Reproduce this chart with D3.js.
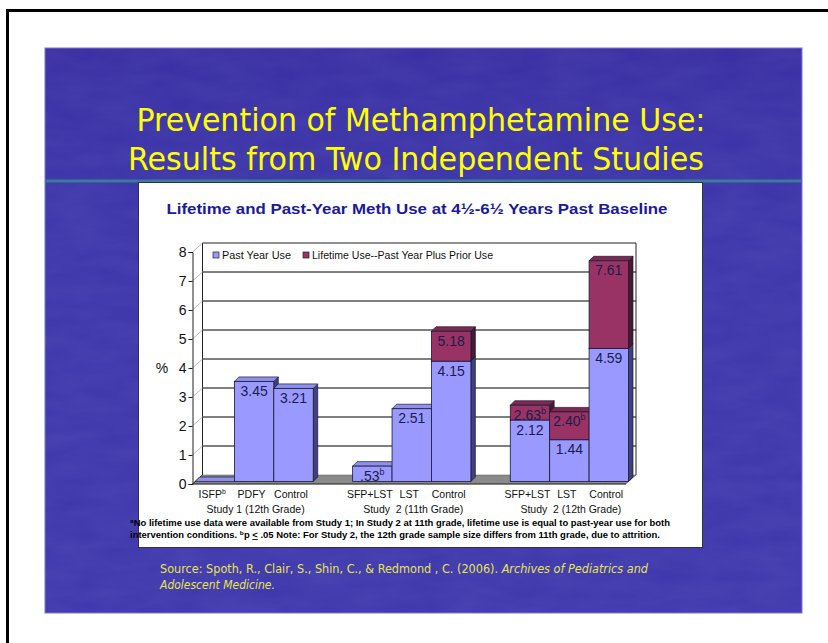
<!DOCTYPE html>
<html>
<head>
<meta charset="utf-8">
<script src="https://cdn.jsdelivr.net/npm/d3@7"></script>
<style>
  body { margin: 0; background: #fff; }
  svg { display: block; }
</style>
</head>
<body>
<div id="pane"></div>
<script>
// chart data
const groups = ["Study 1 (12th Grade)", "Study  2 (11th Grade)", "Study  2 (12th Grade)"];
const barNames = ["ISFP", "PDFY", "Control", "SFP+LST", "LST", "Control", "SFP+LST", "LST", "Control"];
const barNameSup = ["b", "", "", "", "", "", "", "", ""];
const barGroup = [0, 0, 0, 1, 1, 1, 2, 2, 2];
const pastYear = [0, 3.45, 3.21, 0.53, 2.51, 4.15, 2.12, 1.44, 4.59];
const lifetime = [null, null, null, null, null, 5.18, 2.63, 2.40, 7.61];
const pastSup = ["", "", "", "b", "", "", "", "", ""];
const lifeSup = ["", "", "", "", "", "", "b", "b", ""];
const yTicks = [0, 1, 2, 3, 4, 5, 6, 7, 8];
const seriesNames = ["Past Year Use", "Lifetime Use--Past Year Plus Prior Use"];

const W = 828, H = 643;
const svg = d3.select("#pane").append("svg")
  .attr("width", W).attr("height", H);

// page frame (cut off at right / bottom like the scan)
svg.append("rect")
  .attr("x", 7.5).attr("y", 10.5).attr("width", W + 20).attr("height", H + 20)
  .attr("fill", "none").attr("stroke", "#000").attr("stroke-width", 3);

// slide background
const defs = svg.append("defs");
const grad = defs.append("linearGradient").attr("id", "bg").attr("x1", 0).attr("y1", 0).attr("x2", 0).attr("y2", 1);
grad.append("stop").attr("offset", 0).attr("stop-color", "#3a30a4");
grad.append("stop").attr("offset", 0.3).attr("stop-color", "#3e37ab");
grad.append("stop").attr("offset", 1).attr("stop-color", "#4039ad");
const filt = defs.append("filter").attr("id", "tex").attr("x", 0).attr("y", 0).attr("width", 1).attr("height", 1);
filt.append("feTurbulence").attr("type", "fractalNoise").attr("baseFrequency", "0.02 0.06").attr("numOctaves", 3).attr("seed", 4);
filt.append("feColorMatrix").attr("type", "matrix")
  .attr("values", "0 0 0 0 0.75  0 0 0 0 0.75  0 0 0 0 1  0 0 0 0.35 -0.05");

svg.append("rect").attr("x", 45).attr("y", 48).attr("width", 757).attr("height", 565)
  .attr("fill", "url(#bg)").attr("stroke", "#7a74cc").attr("stroke-width", 1);
svg.append("rect").attr("x", 45).attr("y", 48).attr("width", 757).attr("height", 565)
  .attr("filter", "url(#tex)").attr("opacity", 0.22);

// slide title
const titleLines = ["Prevention of Methamphetamine Use:", "Results from Two Independent Studies"];
const titleX = [421, 416], titleY = [131, 170], titleLen = [569, 576];
svg.selectAll("text.title").data(titleLines).join("text")
  .attr("class", "title")
  .attr("x", (d, i) => titleX[i]).attr("y", (d, i) => titleY[i])
  .attr("text-anchor", "middle")
  .attr("textLength", (d, i) => titleLen[i]).attr("lengthAdjust", "spacingAndGlyphs")
  .style("font-family", "'DejaVu Sans Condensed', 'DejaVu Sans', sans-serif")
  .style("font-stretch", "condensed")
  .style("font-size", "31.5px")
  .attr("fill", "#ffff00")
  .text(d => d);

// teal rule
svg.append("rect").attr("x", 45).attr("y", 179.5).attr("width", 757).attr("height", 3).attr("fill", "#3a7c98");

// chart box
svg.append("rect").attr("x", 138.5).attr("y", 182.5).attr("width", 564).attr("height", 365)
  .attr("fill", "#fff").attr("stroke", "#333").attr("stroke-width", 1);

svg.append("text")
  .attr("x", 417).attr("y", 214).attr("text-anchor", "middle")
  .attr("textLength", 501).attr("lengthAdjust", "spacingAndGlyphs")
  .style("font-family", "'Liberation Sans', Arial, sans-serif")
  .style("font-weight", "bold").style("font-size", "15px")
  .attr("fill", "#1a1a9a")
  .text("Lifetime and Past-Year Meth Use at 4½-6½ Years Past Baseline");

// 3D plot geometry
const DX = 10, DY = -9;          // depth of walls
const OX = 2.5, OY = -2.5;       // bars set back from front plane
const BX = 4.5, BY = -4.5;       // depth of bars

const x = d3.scaleBand().domain(d3.range(groups.length)).range([192.5, 626]).paddingInner(0.25).paddingOuter(0);
const xi = d3.scaleBand().domain([0, 1, 2]).range([0, x.bandwidth()]);
const y = d3.scaleLinear().domain([0, 8]).range([484, 252]);

const plot = svg.append("g").style("font-family", "'Liberation Sans', Arial, sans-serif");
const x0 = x.range()[0], x1 = x.range()[1];

// floor
plot.append("polygon")
  .attr("points", [[x0, y(0)], [x1, y(0)], [x1 + DX, y(0) + DY], [x0 + DX, y(0) + DY]].join(" "))
  .attr("fill", "#8a8a8a").attr("stroke", "#555").attr("stroke-width", 0.5);

// back wall gridlines and frame
plot.selectAll("line.grid").data(yTicks.filter(t => t > 0 && t < 8)).join("line")
  .attr("class", "grid")
  .attr("x1", x0 + DX).attr("x2", x1 + DX)
  .attr("y1", d => y(d) + DY).attr("y2", d => y(d) + DY)
  .attr("stroke", "#000").attr("stroke-width", 1);
plot.append("polyline")
  .attr("points", [[x0 + DX, y(0) + DY], [x0 + DX, y(8) + DY], [x1 + DX, y(8) + DY], [x1 + DX, y(0) + DY]].join(" "))
  .attr("fill", "none").attr("stroke", "#222").attr("stroke-width", 1);

// left wall diagonals
plot.selectAll("line.diag").data(yTicks).join("line")
  .attr("class", "diag")
  .attr("x1", x0).attr("x2", x0 + DX)
  .attr("y1", d => y(d)).attr("y2", d => y(d) + DY)
  .attr("stroke", d => d === 0 ? "#333" : "#bbb").attr("stroke-width", 1);

// front y axis
const yAxis = d3.axisLeft(y).tickValues(yTicks).tickSize(4).tickPadding(2).tickFormat(d3.format("d"));
const ax = plot.append("g").attr("transform", `translate(${x0},0)`).call(yAxis);
ax.select(".domain").attr("stroke", "#222");
ax.selectAll(".tick line").attr("stroke", "#222");
ax.selectAll(".tick text").style("font-size", "14px").style("font-family", "'Liberation Sans', Arial, sans-serif").attr("fill", "#111");
plot.append("line").attr("x1", x0).attr("x2", x1).attr("y1", y(0)).attr("y2", y(0)).attr("stroke", "#333");
plot.append("text").attr("x", 162).attr("y", 373).attr("text-anchor", "middle")
  .style("font-size", "14px").attr("fill", "#111").text("%");

// legend
const legColors = ["#9999ff", "#993366"];
const legX = [213, 303];
const legLen = [69, 181];
const leg = plot.selectAll("g.leg").data(seriesNames).join("g").attr("class", "leg")
  .attr("transform", (d, i) => `translate(${legX[i]},252)`);
leg.append("rect").attr("width", 6).attr("height", 6).attr("y", 0)
  .attr("fill", (d, i) => legColors[i]).attr("stroke", "#222").attr("stroke-width", 0.7);
leg.append("text").attr("x", 9).attr("y", 7).style("font-size", "10.5px").attr("fill", "#111")
  .attr("textLength", (d, i) => legLen[i]).attr("lengthAdjust", "spacingAndGlyphs")
  .text(d => d);

// bars
const past = { front: "#9999ff", side: "#40407f", top: "#8f8ff0" };
const life = { front: "#993366", side: "#4a1830", top: "#7d2a53" };
const bars = pastYear.map((v, i) => {
  const g = barGroup[i];
  const pos = barGroup.slice(0, i).filter(k => k === g).length;
  return { i, g, pos, past: v, life: lifetime[i], left: x(g) + xi(pos) + OX, w: xi.bandwidth() };
});

function box(sel, left, w, yTop, yBot, c) {
  sel.append("polygon")
    .attr("points", [[left + w, yTop], [left + w + BX, yTop + BY], [left + w + BX, yBot + BY], [left + w, yBot]].join(" "))
    .attr("fill", c.side).attr("stroke", "#1a1a33").attr("stroke-width", 0.7);
  sel.append("polygon")
    .attr("points", [[left, yTop], [left + BX, yTop + BY], [left + w + BX, yTop + BY], [left + w, yTop]].join(" "))
    .attr("fill", c.top).attr("stroke", "#1a1a33").attr("stroke-width", 0.7);
  sel.append("rect").attr("x", left).attr("y", yTop).attr("width", w).attr("height", yBot - yTop)
    .attr("fill", c.front).attr("stroke", "#1a1a33").attr("stroke-width", 0.8);
}

const fmt = v => d3.format(".2f")(v).replace(/^0\./, ".");

function label(sel, cx, yTop, v, sup) {
  const t = sel.append("text").attr("x", cx).attr("y", yTop + 14.5).attr("text-anchor", "middle")
    .style("font-size", "14px").attr("fill", "#1c1c48");
  t.append("tspan").text(fmt(v));
  if (sup) t.append("tspan").attr("dy", -6).style("font-size", "9px").text(sup);
}

const barG = plot.append("g");
bars.forEach(b => {
  const g = barG.append("g");
  const base = y(0) + OY;
  const pTop = y(b.past) + OY;
  box(g, b.left, b.w, pTop, base, past);
  if (b.life != null) box(g, b.left, b.w, y(b.life) + OY, pTop, life);
});
bars.forEach(b => {
  const cx = b.left + b.w / 2;
  if (b.past > 0) label(barG, cx, y(b.past) + OY, b.past, pastSup[b.i]);
  if (b.life != null) label(barG, cx, y(b.life) + OY, b.life, lifeSup[b.i]);
});

// category labels
const cat = plot.selectAll("text.cat").data(bars).join("text").attr("class", "cat")
  .attr("x", d => d.left - OX + d.w / 2).attr("y", 498).attr("text-anchor", "middle")
  .style("font-size", "10.5px").attr("fill", "#111");
cat.append("tspan").text(d => barNames[d.i]);
cat.filter(d => barNameSup[d.i]).append("tspan").attr("dy", -4).style("font-size", "7px").text(d => barNameSup[d.i]);

plot.selectAll("text.grp").data(groups).join("text").attr("class", "grp")
  .attr("x", (d, i) => x(i) + x.bandwidth() / 2 + 4).attr("y", 513).attr("text-anchor", "middle")
  .style("font-size", "10.5px").attr("fill", "#111").attr("xml:space", "preserve")
  .text(d => d);

// footnotes
const foot = svg.append("g").style("font-family", "'Liberation Sans', Arial, sans-serif")
  .style("font-weight", "bold").style("font-size", "8.6px").attr("fill", "#000");
const f1 = foot.append("text").attr("x", 130).attr("y", 526).attr("textLength", 540).attr("lengthAdjust", "spacingAndGlyphs");
f1.append("tspan").attr("dy", -3).style("font-size", "6px").text("a");
f1.append("tspan").attr("dy", 3).text("No lifetime use data were available from Study 1; In Study 2 at 11th grade, lifetime use is equal to past-year use for both");
const f2 = foot.append("text").attr("x", 130).attr("y", 538).attr("textLength", 530).attr("lengthAdjust", "spacingAndGlyphs");
f2.append("tspan").text("intervention conditions. ");
f2.append("tspan").attr("dy", -3).style("font-size", "6px").text("b");
f2.append("tspan").attr("dy", 3).text("p ");
f2.append("tspan").style("text-decoration", "underline").text("<");
f2.append("tspan").text(" .05  Note: For Study 2, the 12th grade sample size differs from 11th grade, due to attrition.");

// source
const src = svg.append("g").style("font-family", "'DejaVu Sans Condensed', 'DejaVu Sans', sans-serif")
  .style("font-stretch", "condensed").style("font-size", "12px").attr("fill", "#e6e64a");
const s1 = src.append("text").attr("x", 160).attr("y", 573).attr("textLength", 488).attr("lengthAdjust", "spacingAndGlyphs");
s1.append("tspan").text("Source: Spoth, R., Clair, S., Shin, C., & Redmond , C. (2006). ");
s1.append("tspan").style("font-style", "italic").text("Archives of Pediatrics and");
src.append("text").attr("x", 160).attr("y", 589).style("font-style", "italic").text("Adolescent Medicine.");
</script>
</body>
</html>
